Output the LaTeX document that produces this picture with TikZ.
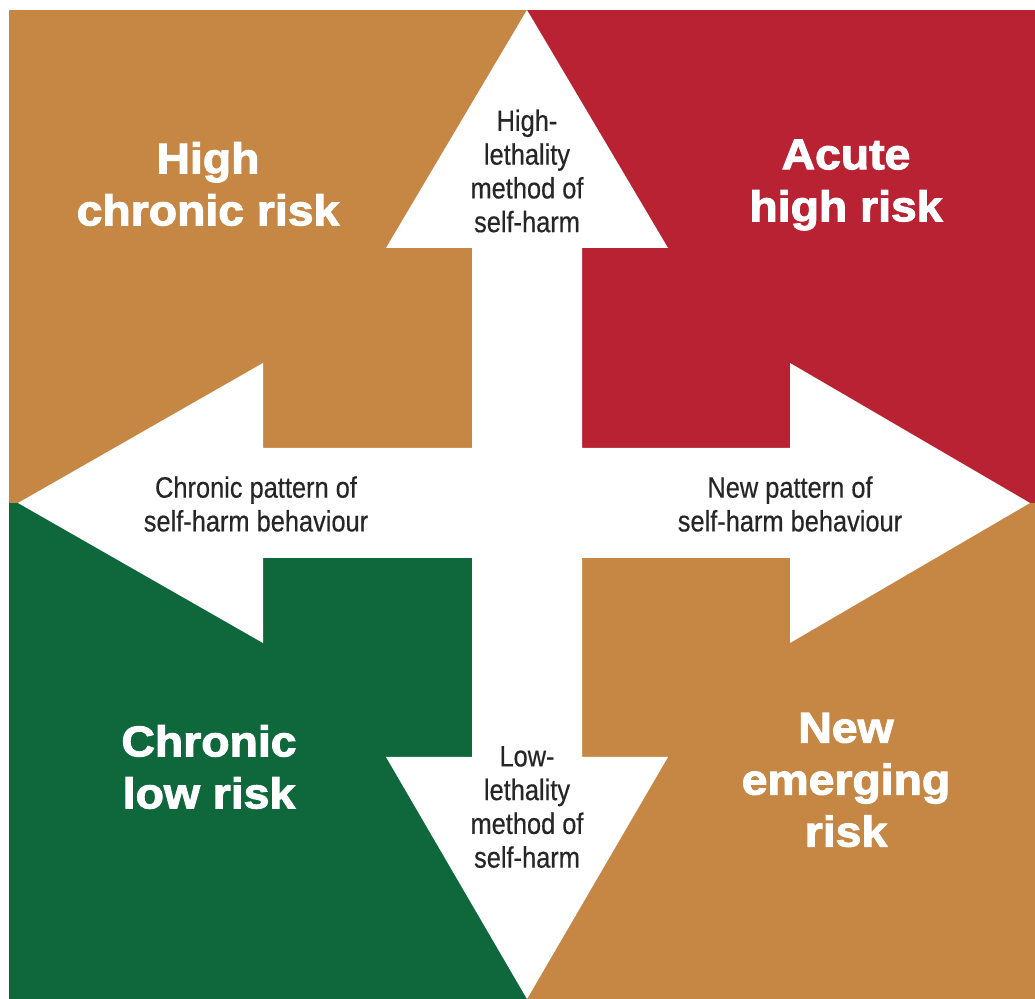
\documentclass[tikz,border=0pt]{standalone}
\usepackage{fontspec}
\setmainfont{Liberation Sans}
\newfontfamily\heavyfont[FakeStretch=1.08,BoldFeatures={FakeBold=2.5}]{Liberation Sans}
\newfontfamily\narrowfont[FakeStretch=0.86,FakeBold=0.4]{Liberation Sans}
\definecolor{riskTan}{RGB}{198,134,68}
\definecolor{riskRed}{RGB}{184,34,50}
\definecolor{riskGreen}{RGB}{14,104,60}
\tikzset{
  quadlabel/.style={text=white, align=center, inner sep=0pt,
    font=\heavyfont\bfseries\fontsize{30.5}{37}\selectfont},
  arrowlabel/.style={text=black!85, align=center, inner sep=0pt,
    font=\narrowfont\fontsize{21}{24}\selectfont}
}
\begin{document}
\begin{tikzpicture}[x=0.025cm,y=0.025cm]
		\useasboundingbox (0,0) rectangle (1035,999);
		\fill[white] (0,0) rectangle (1035,999);
		
		% Quadrants
		\fill[riskTan] (9,496) rectangle (527,989);
		\fill[riskRed] (527,496) rectangle (1035,989);
		\fill[riskGreen] (9,0) rectangle (527,496);
		\fill[riskTan] (527,0) rectangle (1035,496);
		
		% Cross of arrows
		\fill[white] (527,989) -- (668,751) -- (582,751) -- (582,551)
		  -- (790,551) -- (790,636) -- (1030,496) -- (790,356) -- (790,441)
		  -- (582,441) -- (582,242) -- (668,242) -- (527,0) -- (386,242)
		  -- (472,242) -- (472,441) -- (263,441) -- (263,356) -- (18,496)
		  -- (263,636) -- (263,551) -- (472,551) -- (472,751) -- (386,751)
		  -- cycle;
		
		% Quadrant labels
		\node[quadlabel] (highchronic) at (208,815) {High\\chronic risk};
		\node[quadlabel] (acutehigh) at (846,814) {Acute\\high risk};
		\node[quadlabel] (chroniclow) at (209,232) {Chronic\\low risk};
		\node[quadlabel] (newemerging) at (846,219) {New\\emerging\\risk};
		
		% Arrow labels
		\node[arrowlabel] (uplabel) at (527,828) {High-\\lethality\\method of\\self-harm};
		\node[arrowlabel] (downlabel) at (527,192) {Low-\\lethality\\method of\\self-harm};
		\node[arrowlabel] (leftlabel) at (256,495) {Chronic pattern of\\self-harm behaviour};
		\node[arrowlabel] (rightlabel) at (790,495) {New pattern of\\self-harm behaviour};
\end{tikzpicture}
\end{document}
